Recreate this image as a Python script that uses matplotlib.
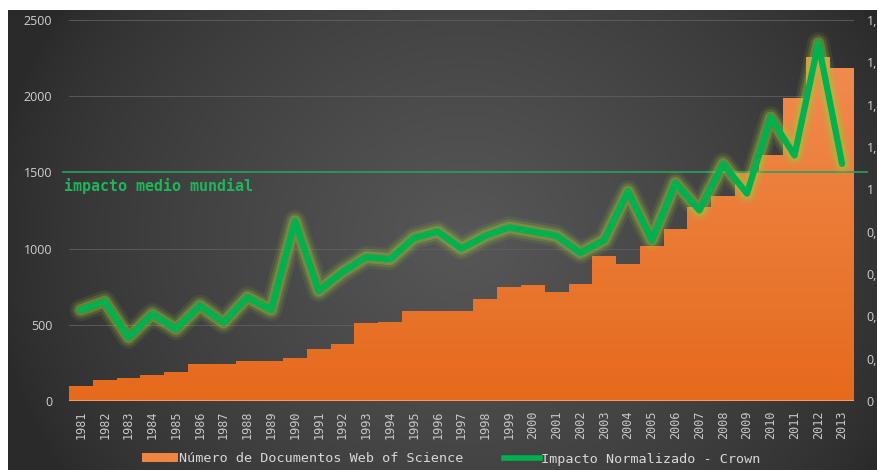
import numpy as np
import matplotlib.pyplot as plt
from matplotlib.path import Path
from matplotlib.patches import PathPatch, Patch
from matplotlib.lines import Line2D
from matplotlib.colors import LinearSegmentedColormap

years = [str(y) for y in range(1981, 2014)]
documentos = [100, 138, 149, 171, 193, 243, 243, 262, 262, 280, 339, 374, 510, 517,
              589, 589, 593, 669, 750, 763, 713, 768, 953, 899, 1017, 1128, 1271,
              1345, 1495, 1614, 1990, 2255, 2183]
impacto = [0.43, 0.47, 0.30, 0.41, 0.34, 0.45, 0.37, 0.49, 0.43, 0.85, 0.52, 0.61,
           0.68, 0.67, 0.77, 0.80, 0.72, 0.78, 0.82, 0.80, 0.78, 0.70, 0.76, 0.99,
           0.76, 1.03, 0.90, 1.12, 0.98, 1.34, 1.16, 1.69, 1.12]
left_ticks = [0, 500, 1000, 1500, 2000, 2500]
right_ticks = [0, 0.2, 0.4, 0.6, 0.8, 1.0, 1.2, 1.4, 1.6, 1.8]
linea_media = 1500

W, H = 877, 470
fig = plt.figure(figsize=(W / 100, H / 100), dpi=100)
fig.patch.set_facecolor('white')

# dark background, lighter towards the middle
bg = fig.add_axes([8 / W, 0, 1 - 8 / W, 1 - 10 / H], zorder=-5)
gx, gy = np.meshgrid(np.linspace(-1, 1, 400), np.linspace(-1, 1, 220))
r = np.sqrt(((gx - 0.05) / 1.1) ** 2 + (gy / 1.9) ** 2)
shade = np.clip(1 - r, 0, 1) ** 0.75
bg_cmap = LinearSegmentedColormap.from_list('bg', ['#2a2a2a', '#575757'])
bg.imshow(shade, cmap=bg_cmap, aspect='auto', extent=[0, 1, 0, 1], vmin=0, vmax=1)
bg.axis('off')

ax = fig.add_axes([69 / W, (H - 401) / H, 785 / W, 381 / H])
ax.patch.set_alpha(0)
x = np.arange(len(years))

bars = ax.bar(x, documentos, width=1.0, color='#ee7d32', linewidth=0, zorder=2)
paths = [b.get_path().transformed(b.get_patch_transform()) for b in bars]
clip = PathPatch(Path.make_compound_path(*paths), transform=ax.transData,
                 facecolor='none', edgecolor='none')
ax.add_patch(clip)
grad = np.linspace(1, 0, 256).reshape(-1, 1)
bar_cmap = LinearSegmentedColormap.from_list('bar', ['#e56a1c', '#f38f55'])
im = ax.imshow(grad, cmap=bar_cmap, aspect='auto', extent=[-0.5, 32.5, 0, 2500],
               zorder=3, vmin=0, vmax=1)
im.set_clip_path(clip)

ax.set_xlim(-0.5, len(years) - 0.5)
ax.set_ylim(0, 2500)
ax.set_yticks(left_ticks)
ax.set_xticks(x)
ax.set_xticklabels(years, rotation=90, family='DejaVu Sans Mono', fontsize=8.5,
                   color='#c8c8c8')
ax.tick_params(axis='x', length=0, pad=7)
ax.tick_params(axis='y', length=0, pad=12, labelcolor='#d0d0d0', labelsize=9)
for lab in ax.get_yticklabels():
    lab.set_family('Open Sans')
for v in left_ticks:
    if v not in (0, linea_media):
        ax.axhline(v, color='#5f5f5f', lw=0.6, zorder=1)
ax.axhline(0, color='#f6a878', lw=1.2, zorder=4)
for s in ax.spines.values():
    s.set_visible(False)

# world average reference line
ax.plot([-0.008, 1.017], [linea_media, linea_media], transform=ax.get_yaxis_transform(),
        color='#27a05e', lw=1.2, clip_on=False, zorder=5)
ax.text(-0.007, 1410, 'impacto medio mundial', transform=ax.get_yaxis_transform(),
        family='DejaVu Sans Mono', fontweight='bold', fontsize=10.8, color='#1fb55a',
        va='center', ha='left', zorder=6)

# right axis, labels run off the edge of the image as in the original
ax2 = ax.twinx()
ax2.set_ylim(0, 1.8)
ax2.set_yticks(right_ticks)
ax2.set_yticklabels([('%.1f' % v).replace('.', ',').replace(',0', '') for v in right_ticks],
                    family='Open Sans', fontsize=9, color='#d0d0d0')
ax2.tick_params(axis='y', length=0, pad=9)
for s in ax2.spines.values():
    s.set_visible(False)

for lw, a in [(16, 0.10), (12, 0.18), (8.5, 0.32)]:
    ax2.plot(x, impacto, color='#9ccc3c', lw=lw, alpha=a, solid_joinstyle='round',
             solid_capstyle='round', zorder=6)
ax2.plot(x, impacto, color='#00b14f', lw=4.5, solid_joinstyle='round',
         solid_capstyle='round', zorder=8)

handles = [Patch(facecolor='#f08440', edgecolor='none'),
           Line2D([0], [0], color='#00b14f', lw=4)]
fig.legend(handles, ['Número de Documentos Web of Science', 'Impacto Normalizado - Crown'],
           loc='center', bbox_to_anchor=(451 / W, 11 / H), ncol=2, frameon=False,
           prop={'family': 'DejaVu Sans Mono', 'size': 9.7}, labelcolor='#d8d8d8',
           handlelength=2.7, handletextpad=0.05, columnspacing=3.0, handleheight=0.6)

fig.savefig('out.png', dpi=100)
